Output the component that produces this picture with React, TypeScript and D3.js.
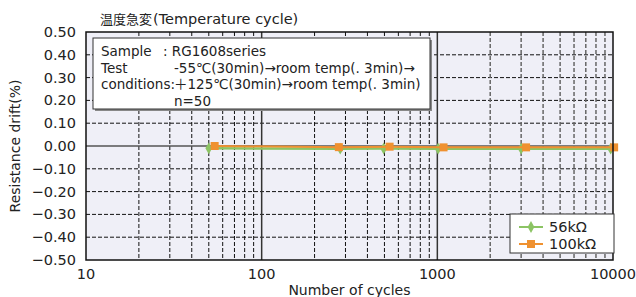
import React from 'react';
import * as d3 from 'd3';

const svgWidth = 636;
const svgHeight = 297;
const margin = { left: 86, right: 23, top: 32, bottom: 37 };
const width = svgWidth - margin.left - margin.right;
const height = svgHeight - margin.top - margin.bottom;

// data
const cycles56 = [50, 280, 495, 1010, 3000, 9700];
const drift56 = [-0.010, -0.012, -0.011, -0.012, -0.012, -0.012];
const cycles100 = [54, 275, 535, 1085, 3200, 10150];
const drift100 = [0.000, -0.005, -0.003, -0.006, -0.006, -0.006];

const xTicks = [10, 100, 1000, 10000];
const yTicks = [0.5, 0.4, 0.3, 0.2, 0.1, 0, -0.1, -0.2, -0.3, -0.4, -0.5];
const infoLabels = ['Sample', 'Test', 'conditions:', ''];
const infoValues = [': RG1608series', '-55℃(30min)→room temp(. 3min)→', '＋125℃(30min)→room temp(. 3min)', 'n=50'];
const seriesNames = ['56kΩ', '100kΩ'];

const green = '#8cc464';
const orange = '#ef9130';
const font = '"DejaVu Sans", "Noto Sans CJK JP", sans-serif';

const x = d3.scaleLog().domain([10, 10000]).range([0, width]);
const y = d3.scaleLinear().domain([-0.5, 0.5]).range([height, 0]);

const minorTicks: number[] = [];
[10, 100, 1000].forEach(dec => {
    d3.range(2, 10).forEach(k => minorTicks.push(dec * k));
});

const fmt = (v: number) => (v < 0 ? '\u2212' : '') + Math.abs(v).toFixed(2);

const line = d3.line<[number, number]>()
    .x(d => x(d[0]))
    .y(d => y(d[1]));

const diamond = d3.symbol().type(d3.symbolDiamond).size(40);

export default function App() {
    const pts56: [number, number][] = cycles56.map((c, i) => [c, drift56[i]]);
    const pts100: [number, number][] = cycles100.map((c, i) => [c, drift100[i]]);

    return (
        <svg width={svgWidth} height={svgHeight}
            style={{ position: 'absolute', left: 0, top: 0, background: '#fff' }}
            fontFamily={font}>
            <text x={100} y={24} fill='#222'>
                <tspan fontSize={13} fontFamily='"Noto Sans CJK JP", sans-serif'>温度急変</tspan>
                <tspan fontSize={14.5} dx={1}>(Temperature cycle)</tspan>
            </text>
            <g transform={`translate(${margin.left},${margin.top})`}>
                <rect width={width} height={height} fill='#efeff7' />
                {yTicks.filter(v => v !== 0.5 && v !== -0.5 && v !== 0).map(v =>
                    <line key={'h' + v} x1={0} x2={width} y1={y(v)} y2={y(v)}
                        stroke='#111' strokeWidth={1} strokeDasharray='4,2' />
                )}
                {minorTicks.map(v =>
                    <line key={'v' + v} x1={x(v)} x2={x(v)} y1={0} y2={height}
                        stroke={v > 1000 ? '#666' : '#111'} strokeWidth={v > 1000 ? 1.5 : 1}
                        strokeDasharray='4,2' />
                )}
                {[100, 1000].map(v =>
                    <line key={'d' + v} x1={x(v)} x2={x(v)} y1={0} y2={height}
                        stroke='#333' strokeWidth={1.5} />
                )}
                <line x1={0} x2={width} y1={y(0)} y2={y(0)} stroke='#555' strokeWidth={1.5} />

                <path d={line(pts56) || ''} fill='none' stroke={green} strokeWidth={2.5} />
                {pts56.map((d, i) =>
                    <path key={'g' + i} d={diamond() || ''} fill={green}
                        transform={`translate(${x(d[0])},${y(d[1])})`} />
                )}
                <path d={line(pts100) || ''} fill='none' stroke={orange} strokeWidth={2} />
                {pts100.map((d, i) =>
                    <rect key={'o' + i} x={x(d[0]) - 4} y={y(d[1]) - 4} width={8} height={8} fill={orange} />
                )}

                <rect width={width} height={height} fill='none' stroke='#111' strokeWidth={1.5} />

                {/* info box */}
                <rect x={9} y={8} width={337} height={71} fill='#888' />
                <rect x={7} y={6} width={337} height={71} fill='#fff' stroke='#333' strokeWidth={1} />
                {infoLabels.map((t, i) =>
                    <text key={'il' + i} x={15} y={24 + i * 16.5} fontSize={13.5} fill='#222'>{t}</text>
                )}
                {infoValues.map((t, i) =>
                    <text key={'iv' + i} x={i === 0 ? 77 : 88} y={24 + i * 16.5} fontSize={13.5} fill='#222'>
                        {i === 0 ? t.replace(': ', ':   ') : t}
                    </text>
                )}

                {/* legend */}
                <rect x={424} y={182} width={104} height={39} fill='#fff' stroke='#333' strokeWidth={1} />
                {seriesNames.map((n, i) => {
                    const ly = 195 + i * 17;
                    return (
                        <g key={'lg' + i}>
                            <line x1={433} x2={457} y1={ly} y2={ly} stroke={i === 0 ? green : orange} strokeWidth={2} />
                            {i === 0
                                ? <path d={diamond() || ''} fill={green} transform={`translate(445,${ly})`} />
                                : <rect x={441} y={ly - 4} width={8} height={8} fill={orange} />}
                            <text x={463} y={ly + 5} fontSize={14.5} fill='#222'>{n}</text>
                        </g>
                    );
                })}

                {/* axes labels */}
                {yTicks.map(v =>
                    <text key={'yt' + v} x={-10} y={y(v) + 5} fontSize={14.5} textAnchor='end' fill='#222'>{fmt(v)}</text>
                )}
                {xTicks.map(v =>
                    <text key={'xt' + v} x={x(v)} y={height + 19} fontSize={14.5} textAnchor='middle' fill='#222'>{v}</text>
                )}
                <text x={x(316)} y={height + 35} fontSize={14} textAnchor='middle' fill='#222'>Number of cycles</text>
                <text transform={`translate(${-66},${height / 2}) rotate(-90)`} fontSize={14}
                    textAnchor='middle' fill='#222'>Resistance drift(%)</text>
            </g>
        </svg>
    );
}
